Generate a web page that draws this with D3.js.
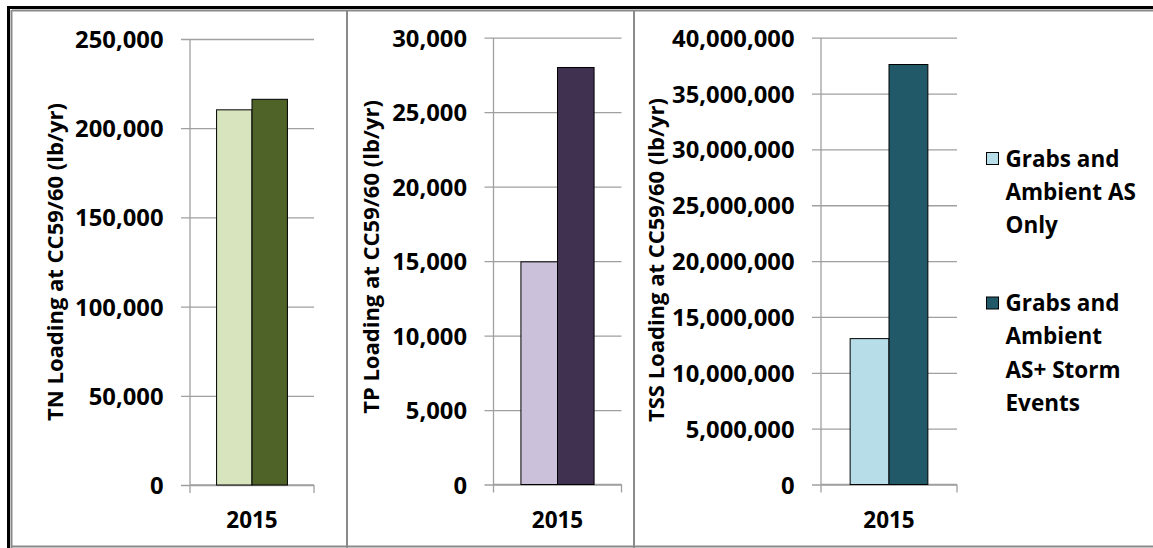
<!DOCTYPE html>
<html>
<head>
<meta charset="utf-8">
<script src="https://cdn.jsdelivr.net/npm/d3@7"></script>
<style>
  html, body { margin: 0; padding: 0; background: #fff; }
  svg { display: block; }
  text { font-family: "Open Sans", Lato, sans-serif; font-weight: bold; fill: #000; }
</style>
</head>
<body>
<svg id="chart" width="1153" height="548"></svg>
<script>
// ---- data ----
const categories = ["2015"];
const seriesNames = ["Grabs and Ambient AS Only", "Grabs and Ambient AS+ Storm Events"];
const legendLines = [["Grabs and", "Ambient AS", "Only"], ["Grabs and", "Ambient", "AS+ Storm", "Events"]];
const tnValues = [210300, 216200];
const tpValues = [14950, 28000];
const tssValues = [13060000, 37600000];
const tnTicks = [0, 50000, 100000, 150000, 200000, 250000];
const tpTicks = [0, 5000, 10000, 15000, 20000, 25000, 30000];
const tssTicks = [0, 5000000, 10000000, 15000000, 20000000, 25000000, 30000000, 35000000, 40000000];
const tnTitle = "TN Loading at CC59/60 (lb/yr)";
const tpTitle = "TP Loading at CC59/60 (lb/yr)";
const tssTitle = "TSS Loading at CC59/60 (lb/yr)";
const tnColors = ["#d7e4bd", "#4f6228"];
const tpColors = ["#ccc1da", "#403151"];
const tssColors = ["#b7dde8", "#215968"];

// ---- layout ----
const panels = [
  { values: tnValues, ticks: tnTicks, title: tnTitle, colors: tnColors, x0: 190, x1: 314, top: 39, bottom: 485, titleX: 55, titleY: 262 },
  { values: tpValues, ticks: tpTicks, title: tpTitle, colors: tpColors, x0: 493.5, x1: 621.5, top: 37.7, bottom: 484.5, titleX: 371.5, titleY: 257 },
  { values: tssValues, ticks: tssTicks, title: tssTitle, colors: tssColors, x0: 821, x1: 957, top: 37.7, bottom: 484.5, titleX: 656, titleY: 260 }
];

const svg = d3.select("#chart");
const fmt = d3.format(",");
const gridColor = "#a0a0a0";
const borderColor = "#8a8a8a";
const fontSize = 22.5;
const tickSize = 23.8;
const titleSize = 22;

// frame
svg.append("line").attr("x1", 12).attr("x2", 1153).attr("y1", 10.5).attr("y2", 10.5).attr("stroke", borderColor).attr("stroke-width", 2);
svg.append("line").attr("x1", 11.5).attr("x2", 11.5).attr("y1", 10).attr("y2", 548).attr("stroke", borderColor).attr("stroke-width", 2);
svg.append("line").attr("x1", 12).attr("x2", 1153).attr("y1", 546.5).attr("y2", 546.5).attr("stroke", borderColor).attr("stroke-width", 2);
[347, 634].forEach(x => {
  svg.append("line").attr("x1", x).attr("x2", x).attr("y1", 10).attr("y2", 548).attr("stroke", borderColor).attr("stroke-width", 2);
});
svg.append("line").attr("x1", 7).attr("x2", 1153).attr("y1", 7.5).attr("y2", 7.5).attr("stroke", "#000").attr("stroke-width", 3);
svg.append("line").attr("x1", 8.5).attr("x2", 8.5).attr("y1", 6).attr("y2", 548).attr("stroke", "#000").attr("stroke-width", 3);

panels.forEach(p => {
  const g = svg.append("g");
  const y = d3.scaleLinear().domain([0, d3.max(p.ticks)]).range([p.bottom, p.top]);
  const x = d3.scaleBand().domain(categories).range([p.x0, p.x1]).paddingInner(0).paddingOuter(0.375);
  const xs = d3.scaleBand().domain(d3.range(seriesNames.length)).range([0, x.bandwidth()]);

  // gridlines + outward ticks
  const yAxis = d3.axisLeft(y).tickValues(p.ticks).tickSize(-(p.x1 - p.x0)).tickFormat(fmt).tickPadding(0);
  const ag = g.append("g").attr("transform", `translate(${p.x0},0)`).call(yAxis);
  ag.select(".domain").remove();
  ag.selectAll(".tick line").attr("stroke", gridColor).attr("x1", -9).attr("stroke-width", 1.3);
  ag.selectAll(".tick text").attr("x", -26.5).attr("dy", "0.36em")
    .style("font-size", tickSize + "px").style("font-family", "'Open Sans', sans-serif").style("font-weight", "bold").attr("fill", "#000");

  // y axis line
  g.append("line").attr("x1", p.x0).attr("x2", p.x0).attr("y1", p.top).attr("y2", p.bottom + 8).attr("stroke", gridColor).attr("stroke-width", 1.3);
  // x axis line + end ticks
  g.append("line").attr("x1", p.x0).attr("x2", p.x1).attr("y1", p.bottom).attr("y2", p.bottom).attr("stroke", gridColor).attr("stroke-width", 1.3);
  g.append("line").attr("x1", p.x1).attr("x2", p.x1).attr("y1", p.bottom).attr("y2", p.bottom + 8).attr("stroke", gridColor).attr("stroke-width", 1.3);

  // bars
  categories.forEach((c) => {
    g.selectAll(null).data(p.values).enter().append("rect")
      .attr("x", (d, i) => x(c) + xs(i))
      .attr("y", d => y(d))
      .attr("width", xs.bandwidth())
      .attr("height", d => y(0) - y(d))
      .attr("fill", (d, i) => p.colors[i])
      .attr("stroke", "#000").attr("stroke-width", 1);
    g.append("text").attr("x", x(c) + x.bandwidth() / 2).attr("y", 528)
      .attr("text-anchor", "middle").style("font-size", fontSize + "px").text(c);
  });

  // axis title
  g.append("text").attr("transform", `translate(${p.titleX + 7.5},${p.titleY}) rotate(-90)`)
    .attr("text-anchor", "middle").style("font-size", titleSize + "px").text(p.title);
});

// legend (uses TSS panel colours)
const legendTop = [158.5, 303];
legendLines.forEach((lines, i) => {
  svg.append("rect").attr("x", 986.5).attr("y", legendTop[i] - 6).attr("width", 12).attr("height", 12)
    .attr("fill", tssColors[i]).attr("stroke", "#000").attr("stroke-width", 1);
  lines.forEach((t, j) => {
    svg.append("text").attr("x", 1005.5).attr("y", legendTop[i] + j * 33.3).attr("dy", "0.36em")
      .style("font-size", fontSize + "px").text(t);
  });
});
</script>
</body>
</html>
